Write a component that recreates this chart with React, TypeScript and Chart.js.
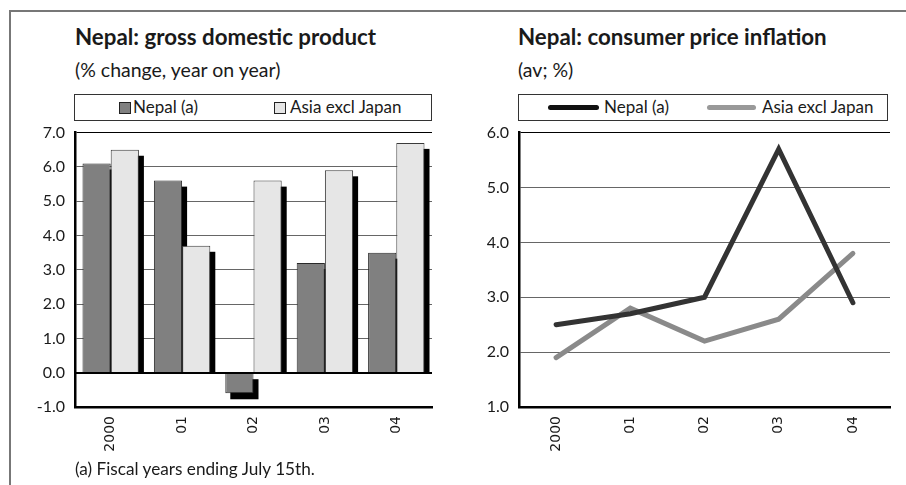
import React, { useEffect, useRef } from "react";
import { Chart, registerables } from "chart.js";

Chart.register(...registerables);

// Fiscal / calendar years on the horizontal axis
const years = ["2000", "01", "02", "03", "04"];

// GDP growth, % change year on year
const gdpNepal = [6.1, 5.6, -0.6, 3.2, 3.5];
const gdpAsia = [6.5, 3.7, 5.6, 5.9, 6.7];
const gdpAxis = { min: -1, max: 7, step: 1 };

// Consumer price inflation, average %
const cpiNepal = [2.5, 2.7, 3.0, 5.7, 2.9];
const cpiAsia = [1.9, 2.8, 2.2, 2.6, 3.8];
const cpiAxis = { min: 1, max: 6, step: 1 };

const seriesNames = ["Nepal (a)", "Asia excl Japan"];

const TEXT = "#1a1a1a";
const LABEL_FONT = "Lato, 'Noto Sans', sans-serif";
const TICK_FONT = "'DejaVu Sans', Verdana, sans-serif";

// Black drop shadow behind every bar, offset down and to the right.
const barShadow = {
  id: "barShadow",
  beforeDatasetsDraw(chart: any) {
    const ctx = chart.ctx;
    const dx = 5;
    const dy = 6;
    ctx.save();
    ctx.fillStyle = "#000";
    chart.data.datasets.forEach((_: any, i: number) => {
      const meta = chart.getDatasetMeta(i);
      meta.data.forEach((bar: any) => {
        const { x, y, base, width } = bar.getProps(["x", "y", "base", "width"], true);
        const left = x - width / 2 + dx;
        if (y <= base) {
          ctx.fillRect(left, y + dy, width, base - (y + dy));
        } else {
          ctx.fillRect(left, base + dy, width, y - base);
        }
      });
    });
    ctx.restore();
  },
};

// Heavy zero line drawn on top of the bars.
const zeroLine = {
  id: "zeroLine",
  afterDatasetsDraw(chart: any) {
    const { ctx, chartArea, scales } = chart;
    const y = Math.round(scales.y.getPixelForValue(0));
    ctx.save();
    ctx.strokeStyle = "#000";
    ctx.lineWidth = 2;
    ctx.beginPath();
    ctx.moveTo(chartArea.left, y);
    ctx.lineTo(chartArea.right, y);
    ctx.stroke();
    ctx.restore();
  },
};

function yScale(axis: { min: number; max: number; step: number }) {
  return {
    min: axis.min,
    max: axis.max,
    afterFit: (s: any) => {
      s.width = 55;
    },
    ticks: {
      stepSize: axis.step,
      padding: 10,
      color: TEXT,
      font: { family: LABEL_FONT, size: 16 },
      callback: (v: any) => Number(v).toFixed(1),
    },
    grid: {
      drawTicks: false,
      color: (c: any) => (c.tick && c.tick.value === axis.max ? "#000" : "#666"),
      lineWidth: 1,
    },
    border: { display: true, color: "#000", width: 2.5 },
  };
}

function xScale() {
  return {
    offset: true,
    afterFit: (s: any) => {
      s.height = 60;
    },
    ticks: {
      maxRotation: 90,
      minRotation: 90,
      padding: 9,
      color: TEXT,
      font: { family: TICK_FONT, size: 14 },
    },
    grid: { display: false, drawTicks: false },
    border: { display: true, color: "#000", width: 2.5 },
  };
}

function GdpChart() {
  const ref = useRef<HTMLCanvasElement>(null);
  useEffect(() => {
    const chart = new Chart(ref.current!, {
      type: "bar",
      data: {
        labels: years,
        datasets: [
          {
            label: seriesNames[0],
            data: gdpNepal,
            backgroundColor: "#808080",
            borderColor: "#2a2a2a",
            borderWidth: 1,
          },
          {
            label: seriesNames[1],
            data: gdpAsia,
            backgroundColor: "#e6e6e6",
            borderColor: "#3a3a3a",
            borderWidth: 1,
          },
        ],
      },
      options: {
        responsive: false,
        animation: false,
        layout: { padding: { left: 0, right: 8, top: 1, bottom: 0 } },
        datasets: { bar: { barPercentage: 1, categoryPercentage: 0.79 } },
        plugins: { legend: { display: false }, tooltip: { enabled: false } },
        scales: { x: xScale() as any, y: yScale(gdpAxis) as any },
      },
      plugins: [barShadow, zeroLine],
    });
    return () => chart.destroy();
  }, []);
  return (
    <canvas
      ref={ref}
      width={420}
      height={354}
      style={{ position: "absolute", left: 20, top: 113 }}
    />
  );
}

function CpiChart() {
  const ref = useRef<HTMLCanvasElement>(null);
  useEffect(() => {
    const chart = new Chart(ref.current!, {
      type: "line",
      data: {
        labels: years,
        datasets: [
          {
            label: seriesNames[0],
            data: cpiNepal,
            borderColor: "#333",
            borderWidth: 5,
            borderCapStyle: "round",
            borderJoinStyle: "miter",
            pointRadius: 0,
            tension: 0,
          },
          {
            label: seriesNames[1],
            data: cpiAsia,
            borderColor: "#8a8a8a",
            borderWidth: 5,
            borderCapStyle: "round",
            borderJoinStyle: "miter",
            pointRadius: 0,
            tension: 0,
          },
        ],
      },
      options: {
        responsive: false,
        animation: false,
        layout: { padding: { left: 0, right: 8, top: 1, bottom: 0 } },
        plugins: { legend: { display: false }, tooltip: { enabled: false } },
        scales: { x: xScale() as any, y: yScale(cpiAxis) as any },
      },
    });
    return () => chart.destroy();
  }, []);
  return (
    <canvas
      ref={ref}
      width={434}
      height={354}
      style={{ position: "absolute", left: 464, top: 113 }}
    />
  );
}

const abs = (left: number, top: number, extra: React.CSSProperties = {}): React.CSSProperties => ({
  position: "absolute",
  left,
  top,
  whiteSpace: "nowrap",
  color: TEXT,
  fontFamily: LABEL_FONT,
  ...extra,
});

const titleStyle: React.CSSProperties = { fontSize: 22.3, fontWeight: 700, lineHeight: "24px" };
const subStyle: React.CSSProperties = { fontSize: 19.5, lineHeight: "22px" };
const noteStyle: React.CSSProperties = { fontSize: 17.2, lineHeight: "20px" };
const legendText: React.CSSProperties = { fontSize: 17, lineHeight: "20px" };

export default function App() {
  return (
    <div
      style={{
        position: "fixed",
        left: 0,
        top: 0,
        width: 906,
        height: 485,
        background: "#fff",
        overflow: "hidden",
      }}
    >
      <div
        style={{
          position: "absolute",
          left: 9,
          top: 10,
          width: 920,
          height: 500,
          borderLeft: "2px solid #777",
          borderTop: "2px solid #777",
        }}
      />

      {/* Left panel: GDP */}
      <div style={abs(75, 25, titleStyle)}>Nepal: gross domestic product</div>
      <div style={abs(75, 59, subStyle)}>(% change, year on year)</div>
      <div
        style={{
          position: "absolute",
          left: 74,
          top: 94,
          width: 356,
          height: 25,
          border: "1px solid #333",
        }}
      />
      <div
        style={{
          position: "absolute",
          left: 119,
          top: 102,
          width: 10,
          height: 10,
          background: "#808080",
          border: "1px solid #222",
        }}
      />
      <div style={abs(133, 97, legendText)}>{seriesNames[0]}</div>
      <div
        style={{
          position: "absolute",
          left: 274,
          top: 102,
          width: 10,
          height: 10,
          background: "#e6e6e6",
          border: "1px solid #222",
        }}
      />
      <div style={abs(290, 97, legendText)}>{seriesNames[1]}</div>
      <GdpChart />
      <div style={abs(75, 459, noteStyle)}>(a) Fiscal years ending July 15th.</div>

      {/* Right panel: CPI */}
      <div style={abs(518, 25, titleStyle)}>Nepal: consumer price inflation</div>
      <div style={abs(518, 59, subStyle)}>(av; %)</div>
      <div
        style={{
          position: "absolute",
          left: 518,
          top: 94,
          width: 368,
          height: 25,
          border: "1px solid #333",
        }}
      />
      <div
        style={{
          position: "absolute",
          left: 548,
          top: 105,
          width: 51,
          height: 5,
          borderRadius: 2.5,
          background: "#111",
        }}
      />
      <div style={abs(604, 97, legendText)}>{seriesNames[0]}</div>
      <div
        style={{
          position: "absolute",
          left: 707,
          top: 105,
          width: 49,
          height: 5,
          borderRadius: 2.5,
          background: "#999",
        }}
      />
      <div style={abs(762, 97, legendText)}>{seriesNames[1]}</div>
      <CpiChart />
    </div>
  );
}
